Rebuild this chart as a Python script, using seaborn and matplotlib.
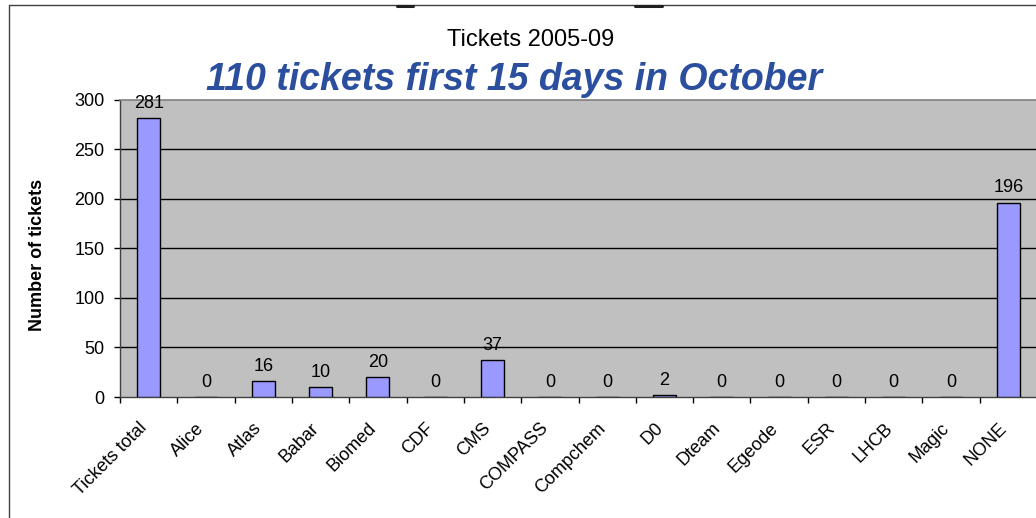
import matplotlib
matplotlib.use("Agg")
import matplotlib.pyplot as plt
from matplotlib.lines import Line2D
from matplotlib.transforms import ScaledTranslation
import seaborn as sns
import pandas as pd

# Ticket counts per virtual organisation
groups = ["Tickets total", "Alice", "Atlas", "Babar", "Biomed", "CDF", "CMS",
          "COMPASS", "Compchem", "D0", "Dteam", "Egeode", "ESR", "LHCB",
          "Magic", "NONE"]
tickets = [281, 0, 16, 10, 20, 0, 37, 0, 0, 2, 0, 0, 0, 0, 0, 196]
y_ticks = [0, 50, 100, 150, 200, 250, 300]

title = "Tickets 2005-09"
subtitle = "110 tickets first 15 days in October"
y_label = "Number of tickets"

sns.set_theme(style="ticks")
plt.rcParams["font.family"] = ["Liberation Sans", "DejaVu Sans"]
plt.rcParams["text.color"] = "black"
plt.rcParams["axes.labelcolor"] = "black"
plt.rcParams["xtick.color"] = "black"
plt.rcParams["ytick.color"] = "black"

df = pd.DataFrame({"group": groups, "tickets": tickets})

fig = plt.figure(figsize=(10.36, 5.18), dpi=100)
ax = fig.add_axes([120 / 1036, 1 - 397 / 518, 917 / 1036, (397 - 99.5) / 518])
ax.set_facecolor("#C0C0C0")

sns.barplot(data=df, x="group", y="tickets", color="#9999FF", saturation=1,
            width=0.4, edgecolor="black", linewidth=1.0, ax=ax, zorder=3)

ax.set_ylim(0, 300)
ax.set_xlim(-0.5, len(groups) - 0.5)
ax.set_yticks(y_ticks)
ax.set_yticklabels([str(v) for v in y_ticks], fontsize=13, color="black")
for v in y_ticks[1:-1]:
    ax.axhline(v, color="black", linewidth=1.0, zorder=1)

# Category boundaries carry the tick marks; names sit at category centres
ax.set_xticks([i - 0.5 for i in range(len(groups) + 1)])
ax.set_xticklabels([])
ax.set_xticks(range(len(groups)), minor=True)
ax.set_xticklabels(groups, minor=True, rotation=45, ha="right",
                   rotation_mode="anchor", fontsize=13, color="black")
ax.tick_params(axis="x", which="major", length=4.5, width=1, color="black",
               direction="out")
ax.tick_params(axis="x", which="minor", length=0, pad=12)
ax.tick_params(axis="y", length=4, width=1, color="black", direction="out", pad=7)

shift = ScaledTranslation(-10 / 100, -6 / 100, fig.dpi_scale_trans)
for lab in ax.get_xticklabels(minor=True):
    lab.set_transform(lab.get_transform() + shift)

ax.set_xlabel("")
ax.set_ylabel(y_label, fontsize=13, fontweight="bold", color="black")
ax.yaxis.set_label_coords(-0.0807, 0.477)

for side in ["top", "right"]:
    ax.spines[side].set_color("#808080")
    ax.spines[side].set_linewidth(1.2)
ax.spines["left"].set_color("#404040")
ax.spines["bottom"].set_color("#404040")
ax.spines["left"].set_linewidth(1)
ax.spines["bottom"].set_linewidth(1)

for i, v in enumerate(tickets):
    ax.annotate(str(v), xy=(i, v), xytext=(0, 4.5), textcoords="offset points",
                ha="center", va="bottom", fontsize=13, color="black", zorder=5)

fig.text(531 / 1036, 1 - 40 / 518, title, ha="center", va="center",
         fontsize=17, color="black")
fig.text(514 / 1036, 1 - 80 / 518, subtitle, ha="center", va="center",
         fontsize=27, fontweight="bold", fontstyle="italic", color="#2B4F9E")

# Chart-area frame
fig.add_artist(Line2D([9 / 1036, 9 / 1036], [0, 1 - 5 / 518],
                      transform=fig.transFigure, color="#404040", linewidth=1))
fig.add_artist(Line2D([9 / 1036, 1], [1 - 5 / 518, 1 - 5 / 518],
                      transform=fig.transFigure, color="#404040", linewidth=1))
for x0, x1 in [(397, 413), (635, 662)]:
    fig.add_artist(Line2D([x0 / 1036, x1 / 1036], [1 - 6 / 518, 1 - 6 / 518],
                          transform=fig.transFigure, color="#202020",
                          linewidth=2.2))

fig.savefig("out.png", dpi=100)
